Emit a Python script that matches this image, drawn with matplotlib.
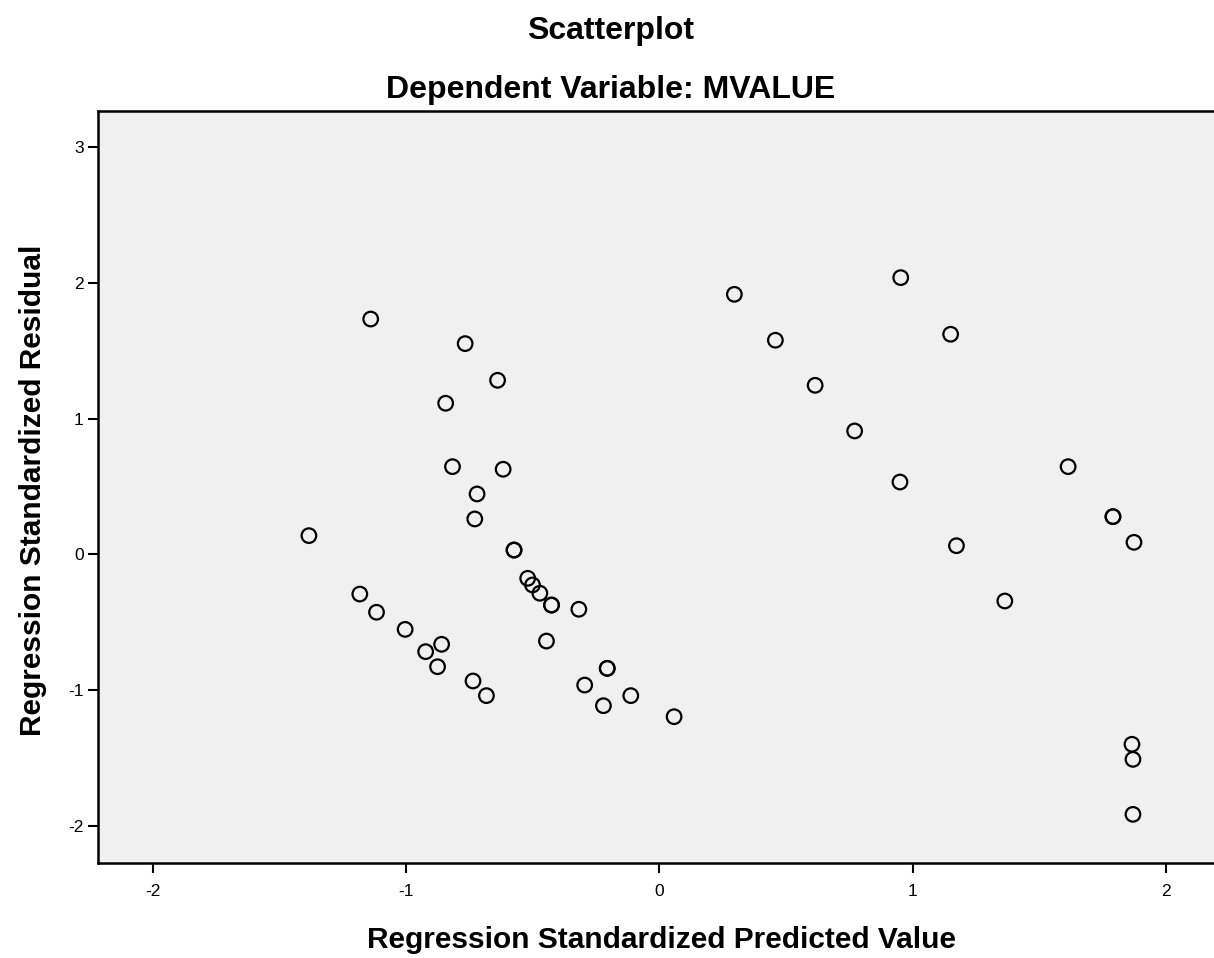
import matplotlib
matplotlib.use("Agg")
import matplotlib.pyplot as plt

predicted = [-1.140, -0.767, -0.639, -0.844, -0.817, -0.617, -0.720, -0.729, -1.384,
             -0.574, -0.574, -0.520, -0.501, -0.472, -0.426, -0.426, -0.446,
             -1.183, -1.117, -1.004, -0.860, -0.923, -0.876, -0.736, -0.683,
             -0.318, -0.206, -0.206, -0.295, -0.113, -0.221, 0.058,
             0.296, 0.953, 0.458, 1.150, 0.615, 0.771, 0.950, 1.173, 1.364,
             1.614, 1.791, 1.791, 1.874, 1.866, 1.870, 1.870]
residual = [1.733, 1.552, 1.282, 1.113, 0.646, 0.627, 0.445, 0.261, 0.138,
            0.032, 0.032, -0.176, -0.225, -0.286, -0.373, -0.373, -0.638,
            -0.292, -0.426, -0.552, -0.662, -0.716, -0.827, -0.932, -1.040,
            -0.404, -0.839, -0.839, -0.962, -1.040, -1.114, -1.195,
            1.915, 2.038, 1.577, 1.621, 1.245, 0.909, 0.533, 0.064, -0.343,
            0.646, 0.278, 0.278, 0.089, -1.398, -1.509, -1.914]

x_ticks = [-2, -1, 0, 1, 2]
y_ticks = [-2, -1, 0, 1, 2, 3]

plt.rcParams['font.family'] = ['Liberation Sans', 'DejaVu Sans']

fig = plt.figure(figsize=(12.14, 9.58), dpi=100)
fig.patch.set_facecolor('white')
ax = fig.add_axes([97.7 / 1214, 1 - 862.7 / 958, 1 - 97.7 / 1214, (862.7 - 110.7) / 958])
ax.set_facecolor('#f0f0f0')

ax.scatter(predicted, residual, s=110, facecolors='none', edgecolors='black',
           linewidths=1.6, zorder=3)

ax.set_xlim(-2.218, 2.190)
ax.set_ylim(-2.27, 3.267)
ax.set_xticks(x_ticks)
ax.set_yticks(y_ticks)
ax.set_xticklabels([str(v) for v in x_ticks])
ax.set_yticklabels([str(v) for v in y_ticks])
ax.tick_params(axis='both', direction='out', length=7, width=1.5, labelsize=12.5,
               colors='black')
ax.tick_params(axis='x', pad=8)
ax.tick_params(axis='y', pad=3)

for side in ['left', 'bottom', 'top']:
    ax.spines[side].set_linewidth(1.8)
    ax.spines[side].set_color('black')
ax.spines['right'].set_visible(False)

ax.set_xlabel('Regression Standardized Predicted Value', fontsize=21.5,
              fontweight='bold', va='center')
ax.set_ylabel('Regression Standardized Residual', fontsize=21.5,
              fontweight='bold', va='center')
ax.xaxis.set_label_coords(0.505, -0.103)
ax.yaxis.set_label_coords(-0.058, 0.4956)

fig.text(0.503, 1 - 31 / 958, 'Scatterplot', ha='center', va='center',
         fontsize=23, fontweight='bold')
fig.text(0.503, 1 - 90 / 958, 'Dependent Variable: MVALUE', ha='center',
         va='center', fontsize=23, fontweight='bold')

fig.savefig('out.png', dpi=100)
